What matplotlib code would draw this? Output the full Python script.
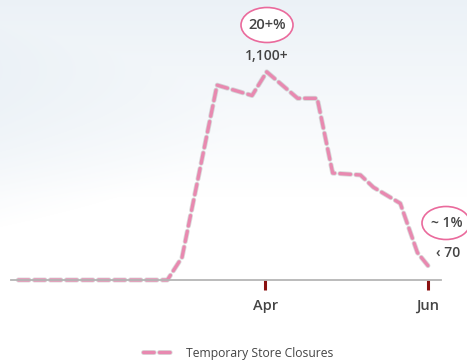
import numpy as np
import matplotlib
matplotlib.use("Agg")
import matplotlib.pyplot as plt
import matplotlib.patheffects as pe
from matplotlib.patches import Ellipse

plt.rcParams['font.family'] = ['Open Sans', 'DejaVu Sans']

# month position (Jan = 1) and number of temporarily closed stores
month_pos = [0.97, 2.80, 2.98, 3.41, 3.84, 4.02, 4.40, 4.64, 4.83, 5.17, 5.33, 5.66, 5.87, 6.02]
closures = [0, 0, 120, 1030, 975, 1100, 960, 960, 565, 555, 490, 405, 145, 65]
tick_pos = [4, 6]
tick_labels = ['Apr', 'Jun']
series_name = 'Temporary Store Closures'

pink = '#e889b0'
ring = '#ea6a9c'
txt = '#444444'

fig = plt.figure(figsize=(4.67, 3.6), dpi=100)

# faint bluish wash behind the chart
bg = fig.add_axes([0, 0, 1, 1], zorder=-5)
yy, xx = np.mgrid[0:1:360j, 0:1:467j]
wash = np.clip(1.0 - yy / 0.55, 0, 1) * 0.75 + np.clip(1.0 - (yy - 0.35) ** 2 / 0.08 - xx / 0.5, 0, 1) * 0.35
wash = np.clip(wash, 0, 0.8)
rgba = np.zeros((360, 467, 4))
rgba[..., 0] = 0.90
rgba[..., 1] = 0.93
rgba[..., 2] = 0.96
rgba[..., 3] = wash
bg.imshow(rgba, aspect='auto', extent=(0, 1, 0, 1))
bg.axis('off')

ax = fig.add_axes([11 / 467, 80 / 360, 430 / 467, 246 / 360])
ax.patch.set_alpha(0)
line, = ax.plot(month_pos, closures, color=pink, lw=2.4, dashes=(3.2, 1.6),
                dash_capstyle='round', label=series_name, clip_on=False,
                path_effects=[pe.Stroke(linewidth=3.6, foreground='#999999', alpha=0.35), pe.Normal()])

ax.set_xlim(0.88, 6.16)
ax.set_ylim(0, 1300)
for s in ['top', 'right', 'left']:
    ax.spines[s].set_visible(False)
ax.spines['bottom'].set_color('#b5b5b5')
ax.spines['bottom'].set_linewidth(1.3)
ax.set_yticks([])
ax.set_xticks(tick_pos)
ax.set_xticklabels(tick_labels)
ax.tick_params(axis='x', length=7, width=2.2, color='#8a1010', pad=7,
               labelsize=10.5, labelcolor=txt)
for lab in ax.get_xticklabels():
    lab.set_fontweight('semibold')

# peak callout
peak_i = int(np.argmax(closures))
ax.text(month_pos[peak_i], 1185, '1,100+', ha='center', va='center',
        fontsize=10, fontweight='semibold', color=txt)
fig.patches.append(Ellipse((267 / 467, 1 - 25 / 360), 52 / 467, 35 / 360,
                           transform=fig.transFigure, facecolor='white',
                           edgecolor=ring, lw=1.2))
fig.text(267 / 467, 1 - 25 / 360, '20+%', ha='center', va='center',
         fontsize=10.5, fontweight='semibold', color=txt)

# latest value callout
fig.patches.append(Ellipse((446 / 467, 1 - 223 / 360), 48 / 467, 33 / 360,
                           transform=fig.transFigure, facecolor='white',
                           edgecolor=ring, lw=1.2))
fig.text(447 / 467, 1 - 223 / 360, '~ 1%', ha='center', va='center',
         fontsize=10, fontweight='semibold', color=txt)
fig.text(448 / 467, 1 - 253 / 360, '‹ 70', ha='center', va='center',
         fontsize=10, fontweight='semibold', color=txt)

fig.legend(handles=[line], loc='center', bbox_to_anchor=(238 / 467, 1 - 353 / 360),
           frameon=False, fontsize=8.7, handlelength=2.4, handletextpad=1.2,
           labelcolor=txt)

fig.savefig('out.png', dpi=100)
